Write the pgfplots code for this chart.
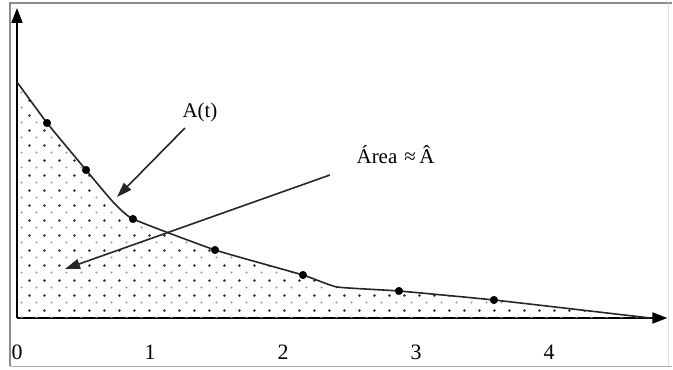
\documentclass[border=0pt]{standalone}
\usepackage{pgfplots}
\pgfplotsset{compat=1.18}
\usepackage{fontspec}
\setmainfont{Liberation Serif}
\usetikzlibrary{arrows.meta,patterns.meta}
\begin{document}
\begin{tikzpicture}
\begin{axis}[
  x=133bp, y=100bp,
  xmin=0, xmax=4.89, ymin=0, ymax=3.10,
  axis lines=left,
  axis line style={line width=2bp, black, -{Triangle[length=15bp,width=11bp]}},
  xtick={0,1,2,3,4},
  xticklabels={0,1,2,3,4},
  ytick=\empty,
  major tick length=0pt,
  xticklabel style={anchor=center, yshift=-34bp, font=\fontsize{22}{24}\selectfont},
  /pgf/number format/assume math mode=true,
  clip=false,
]
% bounding box and frame (pixel -> axis units)
\path (axis cs:-0.1278,3.18) rectangle (axis cs:4.932,-0.52);
\draw[gray!90, line width=2bp] (axis cs:-0.0526,-0.485) -- (axis cs:-0.0526,3.15) -- (axis cs:4.925,3.15);
\draw[gray!60, line width=1.8bp] (axis cs:-0.0526,-0.485) -- (axis cs:4.925,-0.485);
\draw[gray!25, line width=1bp] (axis cs:4.90,-0.485) -- (axis cs:4.90,3.15);
% dotted fill under curve
\addplot[draw=none, pattern={Dots[radius=1.5bp, distance=15bp]}, pattern color=black!80]
  coordinates {(0,2.36) (0.226,1.95) (0.519,1.48) (0.722,1.16) (0.872,0.99) (1.489,0.68) (2.15,0.43) (2.406,0.31) (2.872,0.27) (3.586,0.18) (4.76,0) (0,0)} -- cycle;
\addplot[draw=none, pattern={Dots[radius=1.1bp, distance=15bp, xshift=7.5bp, yshift=7.5bp]}, pattern color=black!40]
  coordinates {(0,2.36) (0.226,1.95) (0.519,1.48) (0.722,1.16) (0.872,0.99) (1.489,0.68) (2.15,0.43) (2.406,0.31) (2.872,0.27) (3.586,0.18) (4.76,0) (0,0)} -- cycle;
% curve
\addplot[black!85, line width=1.6bp, mark=none, smooth, tension=0.25]
  coordinates {(0,2.36) (0.226,1.95) (0.519,1.48) (0.722,1.16) (0.872,0.99) (1.489,0.68) (2.15,0.43) (2.406,0.31) (2.872,0.27) (3.586,0.18) (4.76,0)};
% dots
\addplot[only marks, mark=*, mark size=3.8bp, black]
  coordinates {(0.226,1.95) (0.519,1.48) (0.872,0.99) (1.489,0.68) (2.15,0.43) (2.872,0.27) (3.586,0.18)};
% annotations
\node[font=\fontsize{21}{24}\selectfont] at (axis cs:1.376,2.06) {A(t)};
\draw[black!85, line width=1.6bp, -{Triangle[length=15bp,width=10bp]}] (axis cs:1.263,1.90) -- (axis cs:0.752,1.21);
\node[font=\fontsize{21}{24}\selectfont] at (axis cs:2.846,1.63) {Área\,\,≈\,Â};
\draw[black!85, line width=1.6bp, -{Triangle[length=15bp,width=10bp]}] (axis cs:2.353,1.43) -- (axis cs:0.361,0.49);
\end{axis}
\end{tikzpicture}
\end{document}
